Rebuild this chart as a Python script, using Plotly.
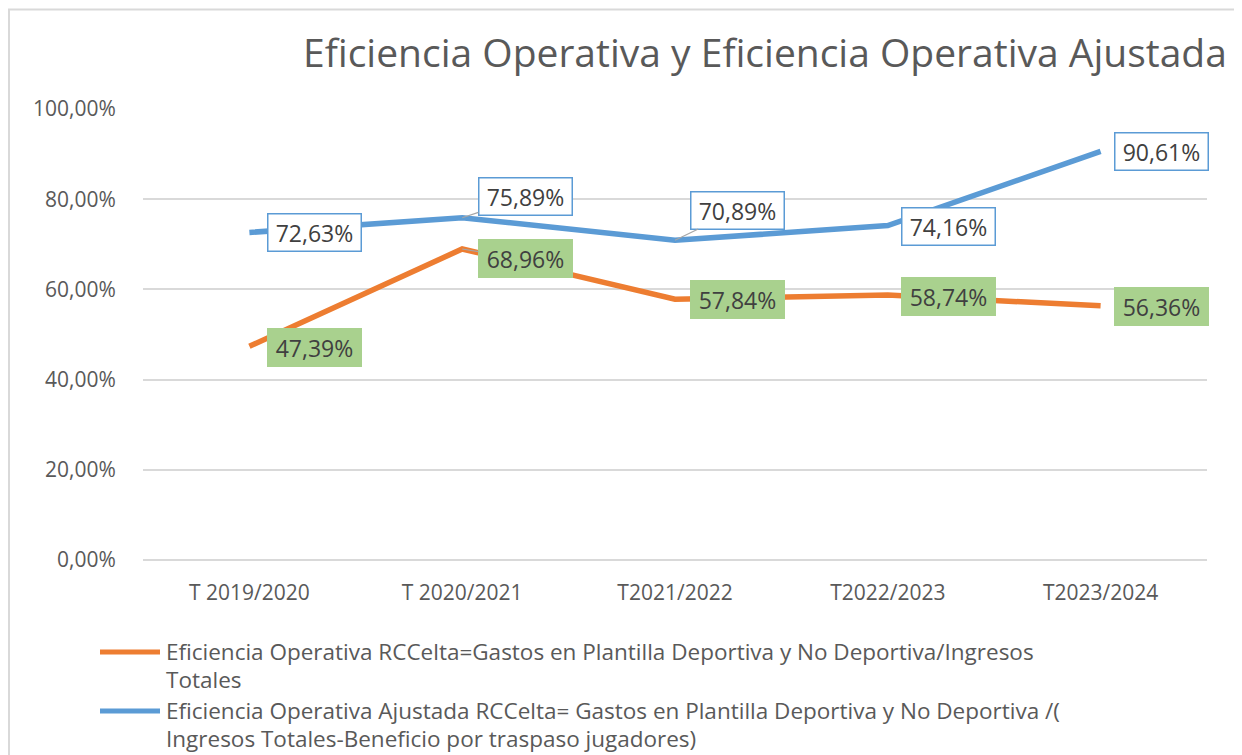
import plotly.graph_objects as go

categories = ["T 2019/2020", "T 2020/2021", "T2021/2022", "T2022/2023", "T2023/2024"]
eficiencia = [0.4739, 0.6896, 0.5784, 0.5874, 0.5636]
ajustada = [0.7263, 0.7589, 0.7089, 0.7416, 0.9061]

name_ef = ["Eficiencia Operativa RCCelta=Gastos en Plantilla Deportiva y No Deportiva/Ingresos",
           "Totales"]
name_aj = ["Eficiencia Operativa Ajustada RCCelta= Gastos en Plantilla Deportiva y No Deportiva /(",
           "Ingresos Totales-Beneficio por traspaso jugadores)"]
title = "Eficiencia Operativa y Eficiencia Operativa Ajustada"

W, H = 1242, 755
OFF = 8  # browser body margin compensation
L, R, T, B = 143 - OFF, 1207 - OFF, 109 - OFF, 560 - OFF

def px(xp):
    return (xp - OFF - L) / (R - L)

def py(yp):
    return (B - (yp - OFF)) / (B - T)

ORANGE = "#ED7D31"
BLUE = "#5B9BD5"
GREEN = "#A9D18E"
GRID = "#D9D9D9"
TXT = "#595959"
LBL = "#404040"
FONT = "Open Sans"

fig = go.Figure()
fig.add_trace(go.Scatter(x=categories, y=eficiencia, mode="lines",
                         line=dict(color=ORANGE, width=5.5), showlegend=False))
fig.add_trace(go.Scatter(x=categories, y=ajustada, mode="lines",
                         line=dict(color=BLUE, width=5.5), showlegend=False))

def fmt(v):
    return f"{v*100:.2f}".replace(".", ",") + "%"

# label placement: (dx, dy, leader)
blue_pos = [(65, 0, False), (63, -21, True), (62, -30, True), (61, 1, False), (61, 0, False)]
orange_pos = [(65, 1, False), (63, 10, True), (62, 0, False), (61, 1, False), (61, 1, False)]

annotations = []
def add_labels(vals, pos, bg, border):
    for c, v, (dx, dy, leader) in zip(categories, vals, pos):
        a = dict(xref="x", yref="y", x=c, y=v, text=fmt(v),
                 font=dict(family=FONT, size=23, color=LBL),
                 bgcolor=bg, bordercolor=border, borderwidth=1.5,
                 width=88, height=32, borderpad=2, align="center")
        if leader:
            a.update(showarrow=True, arrowhead=0, arrowwidth=1.2,
                     arrowcolor="#A6A6A6", ax=dx, ay=dy, standoff=0)
        else:
            a.update(showarrow=False, xshift=dx, yshift=-dy)
        annotations.append(a)

add_labels(ajustada, blue_pos, "white", BLUE)
add_labels(eficiencia, orange_pos, GREEN, GREEN)

# title
annotations.append(dict(xref="paper", yref="paper", x=px(1229), y=py(52),
                        xanchor="right", yanchor="middle", showarrow=False,
                        text=title, font=dict(family=FONT, size=39, color=TXT)))

# legend (manual, one annotation per text line)
shapes = []
for lines, color, yline in [(name_ef, ORANGE, 652), (name_aj, BLUE, 711)]:
    shapes.append(dict(type="line", xref="paper", yref="paper",
                       x0=px(100), x1=px(160), y0=py(yline), y1=py(yline),
                       line=dict(color=color, width=5)))
    for i, txt in enumerate(lines):
        annotations.append(dict(xref="paper", yref="paper", x=px(164),
                                y=py(yline + i * 28.5 - 1),
                                xanchor="left", yanchor="middle", align="left",
                                showarrow=False, text=txt,
                                font=dict(family=FONT, size=22.5, color=TXT)))

# outer frame
shapes.append(dict(type="rect", xref="paper", yref="paper",
                   x0=px(9), x1=px(1235), y0=py(9.5), y1=py(800),
                   line=dict(color=GRID, width=2), fillcolor="rgba(0,0,0,0)", layer="below"))

fig.update_layout(
    width=W, height=H,
    margin=dict(l=L, r=W - R, t=T, b=H - B),
    paper_bgcolor="white", plot_bgcolor="white",
    separators=",.",
    showlegend=False,
    annotations=annotations, shapes=shapes,
    xaxis=dict(type="category", range=[-0.5, 4.5], showgrid=False, showline=False,
               zeroline=False, ticks="outside", ticklen=14, tickcolor="rgba(0,0,0,0)",
               tickfont=dict(family=FONT, size=21, color=TXT)),
    yaxis=dict(range=[0, 1.0], dtick=0.2, tickformat=".2%", showgrid=True,
               gridcolor=GRID, gridwidth=1.5, zeroline=True, zerolinecolor=GRID,
               zerolinewidth=1.5, showline=False, ticks="outside", ticklen=22,
               tickcolor="rgba(0,0,0,0)",
               tickfont=dict(family=FONT, size=21, color=TXT)),
)

fig.write_html("out.html")
